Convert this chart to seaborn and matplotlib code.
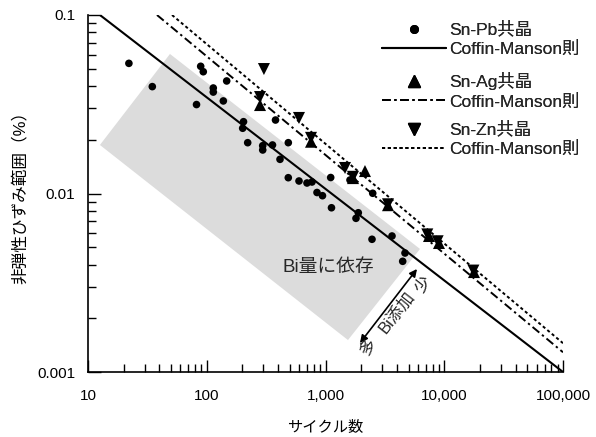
import numpy as np
import matplotlib
matplotlib.use("Agg")
import matplotlib.pyplot as plt
import seaborn as sns
from matplotlib.lines import Line2D
from matplotlib.patches import Polygon
from matplotlib.ticker import NullFormatter

# ---------------- data ----------------
pb_cycles = [22.1, 34.8, 88.9, 93.5, 113.5, 113.5, 137.9, 147.2, 82.0, 204, 200.7,
             221.2, 295.9, 296, 357.8, 379.3, 413.9, 486.2, 486, 598.3, 698.5, 769.6,
             848, 943, 1106, 1123, 1608, 2498, 1806, 1889, 2464, 3631, 4672, 4467]
pb_strain = [0.0536, 0.0397, 0.0516, 0.0481, 0.0390, 0.0370, 0.0330, 0.0427, 0.0315,
             0.02525, 0.0232, 0.01926, 0.01853, 0.01753, 0.0187, 0.0258, 0.01554,
             0.01926, 0.01226, 0.01175, 0.01145, 0.0116, 0.01013, 0.00972, 0.01229,
             0.00832, 0.0119, 0.01003, 0.00726, 0.0078, 0.00554, 0.00578, 0.00464, 0.00417]

ag_cycles = [281, 755, 2150, 1705, 3360, 7440, 9030, 17800]
ag_strain = [0.0313, 0.0195, 0.01336, 0.0122, 0.0086, 0.00578, 0.00528, 0.00363]

zn_cycles = [303, 281, 598, 755, 1460, 1705, 3360, 7200, 8800, 17600]
zn_strain = [0.0498, 0.0347, 0.0265, 0.0205, 0.0139, 0.0124, 0.0087, 0.0059, 0.0054, 0.0037]

cm_pb_cycles = [12.6, 100000]
cm_pb_strain = [0.1, 0.001]
cm_ag_cycles = [38.1, 100000]
cm_ag_strain = [0.1, 0.00129]
cm_zn_cycles = [51.0, 100000]
cm_zn_strain = [0.1, 0.00145]

band_cycles = [12.6, 49, 6250, 1546]
band_strain = [0.0187, 0.0605, 0.00489, 0.00151]

x_ticks = [10, 100, 1000, 10000, 100000]
x_tick_labels = ["10", "100", "1,000", "10,000", "100,000"]
y_ticks = [0.001, 0.01, 0.1]
y_tick_labels = ["0.001", "0.01", "0.1"]

legend_labels = ["Sn-Pb共晶", "Coffin-Manson則", "Sn-Ag共晶", "Coffin-Manson則",
                 "Sn-Zn共晶", "Coffin-Manson則"]

# ---------------- style ----------------
sns.set_theme(style="ticks")
plt.rcParams["font.family"] = ["Liberation Sans", "Noto Sans CJK JP"]
plt.rcParams["axes.unicode_minus"] = False

W, H = 596, 437
fig = plt.figure(figsize=(W / 100, H / 100), dpi=100)
ax = fig.add_axes([88 / W, 1 - 372 / H, (563 - 88) / W, (372 - 15) / H])
ax.set_xscale("log")
ax.set_yscale("log")
ax.set_xlim(10, 1e5)
ax.set_ylim(1e-3, 0.1)

ax.add_patch(Polygon(np.column_stack([band_cycles, band_strain]), closed=True,
                     facecolor="#dcdcdc", edgecolor="none", zorder=1))

DASHDOT = (0, (4.5, 1.8, 1.2, 1.8))
DOT = (0, (1.6, 1.4))

sns.lineplot(x=cm_pb_cycles, y=cm_pb_strain, ax=ax, color="black", lw=1.5,
             sort=False, zorder=3)
sns.lineplot(x=cm_ag_cycles, y=cm_ag_strain, ax=ax, color="black", lw=1.4,
             linestyle=DASHDOT, sort=False, zorder=3)
sns.lineplot(x=cm_zn_cycles, y=cm_zn_strain, ax=ax, color="black", lw=1.4,
             linestyle=DOT, sort=False, zorder=3)

sns.scatterplot(x=pb_cycles, y=pb_strain, ax=ax, marker="o", s=30, color="black",
                edgecolor="none", zorder=4)
sns.scatterplot(x=ag_cycles, y=ag_strain, ax=ax, marker="^", s=75, color="black",
                edgecolor="none", zorder=4)
sns.scatterplot(x=zn_cycles, y=zn_strain, ax=ax, marker="v", s=75, color="black",
                edgecolor="none", zorder=4)

# ---------------- axes ----------------
ax.set_xticks(x_ticks, x_tick_labels)
ax.set_yticks(y_ticks, y_tick_labels)
ax.xaxis.set_minor_formatter(NullFormatter())
ax.yaxis.set_minor_formatter(NullFormatter())
for s in ["top", "right"]:
    ax.spines[s].set_visible(False)
for s in ["left", "bottom"]:
    ax.spines[s].set_linewidth(1.2)
    ax.spines[s].set_color("black")
ax.tick_params(which="major", direction="in", length=9, width=1.0, colors="black",
               labelsize=11, bottom=True, left=True)
ax.tick_params(which="minor", direction="in", length=6, width=1.0, colors="black",
               bottom=True, left=True)
ax.tick_params(axis="x", which="major", pad=12)
ax.tick_params(axis="y", which="major", pad=9)

ax.set_xlabel("サイクル数", fontsize=11, labelpad=13, color="black")
ax.set_ylabel("非弾性ひずみ範囲（%）", fontsize=12, labelpad=7, color="black")

# ---------------- annotations ----------------
ax.text(1050, 0.00383, "Bi量に依存", fontsize=13.5, ha="center", va="center", zorder=5)
ax.annotate("", xy=(5896, 0.003776), xytext=(1952, 0.001455),
            arrowprops=dict(arrowstyle="<|-|>", color="black", lw=1.2,
                            mutation_scale=11, shrinkA=0, shrinkB=0), zorder=5)
ax.text(4000, 0.00217, "Bi添加", fontsize=12, rotation=52, rotation_mode="anchor",
        ha="center", va="center", zorder=5)
ax.text(2280, 0.00138, "多", fontsize=12, rotation=52, rotation_mode="anchor",
        ha="center", va="center", zorder=5)
ax.text(6620, 0.00307, "少", fontsize=12, rotation=52, rotation_mode="anchor",
        ha="center", va="center", zorder=5)

# ---------------- legends ----------------
h_pb = [Line2D([], [], marker="o", ls="none", color="black", markersize=5.5),
        Line2D([], [], color="black", lw=1.5)]
h_ag = [Line2D([], [], marker="^", ls="none", color="black", markersize=9),
        Line2D([], [], color="black", lw=1.4, linestyle=DASHDOT)]
h_zn = [Line2D([], [], marker="v", ls="none", color="black", markersize=9),
        Line2D([], [], color="black", lw=1.4, linestyle=DOT)]

tops = [21, 72, 121]
groups = [(h_pb, legend_labels[0:2]), (h_ag, legend_labels[2:4]), (h_zn, legend_labels[4:6])]
for (hs, labs), top in zip(groups, tops):
    leg = fig.legend(hs, labs, loc="upper left",
                     bbox_to_anchor=(382 / W, 1 - top / H),
                     bbox_transform=fig.transFigure, frameon=False, fontsize=12.5,
                     borderpad=0, borderaxespad=0, handlelength=3.7,
                     handletextpad=0.15, labelspacing=0.2)
    fig.add_artist(leg)

fig.savefig("out.png", dpi=100)
